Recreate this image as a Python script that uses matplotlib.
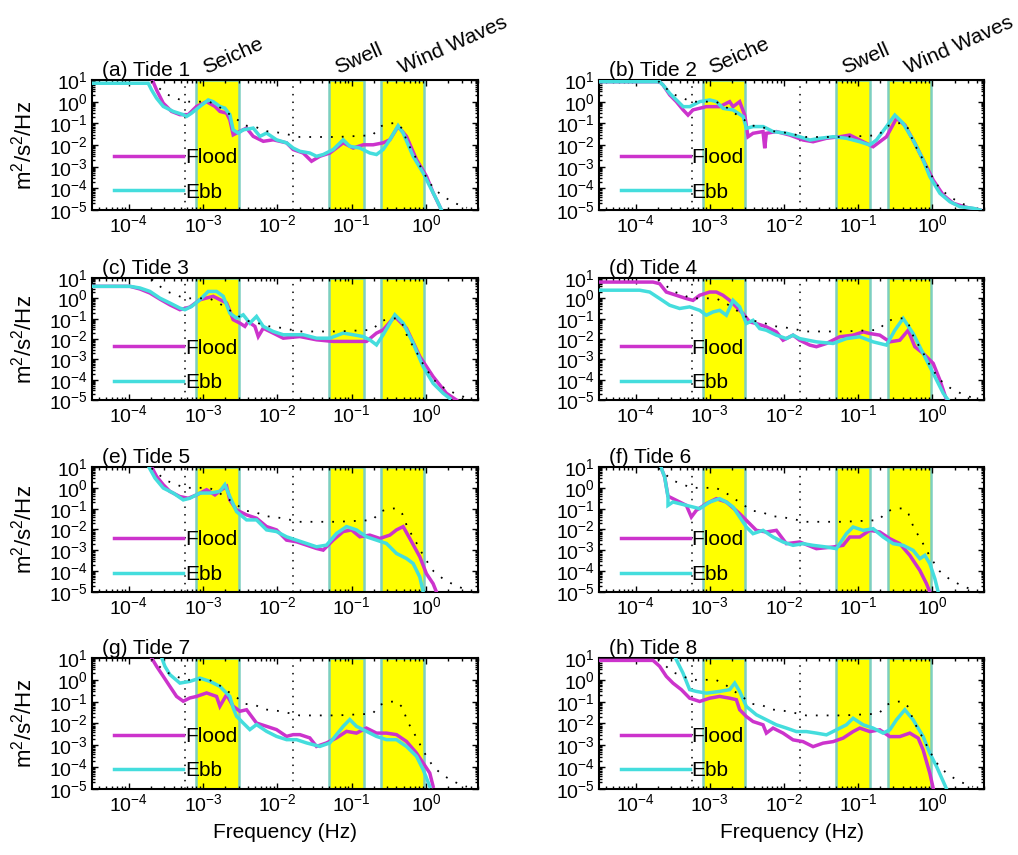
import numpy as np
import matplotlib
matplotlib.use("Agg")
import matplotlib.pyplot as plt
from matplotlib.ticker import LogLocator, NullFormatter, LogFormatterSciNotation

plt.rcParams['font.family'] = ['Liberation Sans', 'DejaVu Sans']
plt.rcParams['mathtext.fontset'] = 'custom'
plt.rcParams['mathtext.rm'] = 'Liberation Sans'
plt.rcParams['mathtext.it'] = 'Liberation Sans:italic'
plt.rcParams['mathtext.bf'] = 'Liberation Sans:bold'

# ---------------- data (log10 frequency [Hz], log10 PSD [m^2/s^2/Hz]) ----------------
panel_titles = ['(a) Tide 1', '(b) Tide 2', '(c) Tide 3', '(d) Tide 4',
                '(e) Tide 5', '(f) Tide 6', '(g) Tide 7', '(h) Tide 8']
series_names = ['Flood', 'Ebb']
band_names = ['Seiche', 'Swell', 'Wind Waves']
band_lo = [8.1e-4, 0.05, 0.25]
band_hi = [3.0e-3, 0.145, 0.95]
vline_freqs = [5.75e-4, 0.0163]

ref_f = [-3.80, -3.65, -3.50, -3.40, -3.25, -3.05, -2.92, -2.80, -2.68, -2.55, -2.44, -2.30,
         -2.18, -2.00, -1.85, -1.70, -1.20, -0.72, -0.62, -0.52, -0.40, -0.32, -0.25, -0.12,
         -0.03, 0.10, 0.24, 0.40, 0.55]
ref_p = [1.3, 0.80, 0.35, 0.22, 0.0, 0.0, 0.0, -0.2, -0.5, -0.8, -1.1, -1.15,
         -1.35, -1.42, -1.52, -1.63, -1.63, -1.55, -1.15, -1.02, -0.98, -1.25, -1.9, -2.7,
         -3.3, -4.0, -4.4, -4.7, -4.9]

a_flood_f = [-4.5, -3.74, -3.693, -3.626, -3.536, -3.424, -3.312, -3.2, -3.088, -2.953, -2.841, -2.774,
             -2.684, -2.64, -2.595, -2.505, -2.415, -2.326, -2.19, -2.057, -1.877, -1.788, -1.653,
             -1.541, -1.429, -1.295, -1.115, -0.98, -0.846, -0.712, -0.577, -0.488, -0.376, -0.264,
             -0.129, 0.005, 0.095, 0.207]
a_flood_p = [1.5, 1.4, 1.08, 0.54, -0.07, -0.45, -0.6, -0.6, -0.22, 0.0, -0.22, -0.45,
             -0.53, -0.84, -1.53, -1.37, -1.22, -1.6, -1.83, -1.76, -1.9, -2.21, -2.37,
             -2.75, -2.52, -2.37, -1.9, -2.14, -1.99, -1.99, -1.9, -1.76, -1.14, -1.6,
             -2.67, -3.44, -4.2, -5.0]
a_ebb_f = [-4.5, -3.738, -3.693, -3.626, -3.536, -3.402, -3.267, -3.222, -3.155, -3.043, -2.931,
           -2.864, -2.774, -2.707, -2.64, -2.595, -2.527, -2.46, -2.326, -2.236, -2.146, -2.012,
           -1.877, -1.788, -1.698, -1.564, -1.474, -1.384, -1.25, -1.115, -1.026, -0.891, -0.757,
           -0.667, -0.577, -0.488, -0.376, -0.308, -0.174, -0.039, 0.05, 0.14, 0.207]
a_ebb_p = [0.85, 0.85, 0.54, 0.16, -0.22, -0.45, -0.6, -0.68, -0.53, -0.22, 0.08,
           0.0, -0.22, -0.3, -0.6, -1.3, -1.45, -1.3, -1.22, -1.6, -1.45, -1.76,
           -1.9, -2.14, -2.29, -2.37, -2.52, -2.44, -2.21, -1.76, -2.06, -2.14, -2.37,
           -2.44, -2.21, -1.76, -1.11, -1.45, -2.52, -3.29, -3.9, -4.51, -5.0]

b_flood_f = [-4.5, -3.677, -3.631, -3.54, -3.451, -3.36, -3.294, -3.227, -3.047, -2.867, -2.732,
             -2.687, -2.597, -2.529, -2.484, -2.417, -2.282, -2.259, -2.237, -2.102, -1.922,
             -1.742, -1.607, -1.427, -1.247, -1.112, -0.977, -0.797, -0.617, -0.482, -0.369,
             -0.234, -0.099, 0.014, 0.149, 0.284, 0.464, 0.644]
b_flood_p = [0.92, 0.92, 0.77, 0.31, 0.0, -0.38, -0.62, -0.38, -0.23, -0.23, 0.0,
             -0.23, 0.0, -0.62, -1.62, -1.46, -1.38, -2.15, -1.46, -1.38, -1.54,
             -1.77, -1.85, -1.69, -1.62, -1.54, -1.77, -2.08, -1.62, -0.77, -1.08,
             -1.92, -2.85, -3.62, -4.31, -4.69, -4.88, -5.0]
b_ebb_f = [-4.5, -3.677, -3.631, -3.54, -3.451, -3.36, -3.27, -3.136, -3.0, -2.911, -2.82,
           -2.687, -2.55, -2.506, -2.416, -2.28, -2.146, -1.966, -1.787, -1.65, -1.517, -1.337,
           -1.157, -0.977, -0.842, -0.752, -0.617, -0.504, -0.392, -0.257, -0.122, -0.032,
           0.104, 0.239, 0.374, 0.553, 0.644]
b_ebb_p = [0.92, 0.92, 0.77, 0.38, 0.08, -0.23, -0.23, 0.0, 0.08, 0.0, -0.31,
           -0.38, -0.69, -1.23, -1.15, -1.15, -1.38, -1.46, -1.62, -1.77, -1.69, -1.62,
           -1.69, -1.85, -2.0, -1.77, -1.15, -0.62, -1.0, -1.77, -2.69, -3.46,
           -4.23, -4.62, -4.85, -4.92, -5.0]

c_flood_f = [-4.5, -3.984, -3.85, -3.715, -3.581, -3.447, -3.312, -3.178, -3.043, -2.864, -2.684,
             -2.595, -2.505, -2.438, -2.393, -2.303, -2.258, -2.191, -2.057, -1.922, -1.698,
             -1.474, -1.25, -1.026, -0.802, -0.667, -0.577, -0.42, -0.264, -0.084, 0.095, 0.274, 0.409]
c_flood_p = [0.59, 0.59, 0.46, 0.26, -0.04, -0.32, -0.56, -0.43, -0.07, 0.1, -0.23,
             -1.05, -1.22, -1.38, -1.14, -1.38, -1.88, -1.47, -1.71, -1.96, -1.88,
             -2.04, -2.12, -2.12, -2.12, -1.71, -1.55, -0.89, -1.47, -2.86, -3.85, -4.67, -5.0]
c_ebb_f = [-4.5, -3.984, -3.85, -3.715, -3.581, -3.447, -3.312, -3.245, -3.155, -3.043, -2.931,
           -2.819, -2.729, -2.64, -2.55, -2.46, -2.371, -2.281, -2.191, -2.057, -1.922, -1.788,
           -1.653, -1.474, -1.295, -1.115, -0.981, -0.846, -0.757, -0.667, -0.577, -0.42, -0.308,
           -0.174, -0.039, 0.095, 0.23, 0.319]
c_ebb_p = [0.59, 0.59, 0.51, 0.34, 0.01, -0.23, -0.48, -0.56, -0.4, -0.07, 0.34,
           0.34, 0.1, -0.73, -0.97, -0.81, -1.22, -0.89, -1.38, -1.63, -1.79, -1.79,
           -1.79, -1.96, -1.96, -1.71, -1.79, -1.88, -2.04, -2.29, -1.79, -0.81, -1.22,
           -2.2, -3.36, -4.18, -4.67, -4.92]

d_flood_f = [-4.5, -3.766, -3.677, -3.587, -3.452, -3.317, -3.227, -3.137, -3.002, -2.912, -2.822,
             -2.732, -2.642, -2.552, -2.462, -2.372, -2.237, -2.102, -2.012, -1.877, -1.787,
             -1.652, -1.562, -1.427, -1.247, -1.067, -0.932, -0.842, -0.707, -0.572, -0.437,
             -0.324, -0.234, -0.122, 0.014, 0.104, 0.194]
d_flood_p = [0.80, 0.80, 0.72, 0.31, 0.15, -0.01, -0.1, 0.15, 0.31, 0.31, 0.15,
             -0.1, -0.42, -0.75, -1.16, -1.24, -1.4, -1.65, -2.06, -1.81, -2.06,
             -2.3, -2.38, -2.22, -1.89, -1.81, -1.65, -1.73, -1.81, -2.14, -2.06,
             -1.57, -2.38, -2.71, -3.2, -4.02, -5.0]
d_ebb_f = [-4.5, -3.946, -3.811, -3.677, -3.542, -3.407, -3.272, -3.137, -3.047, -2.957, -2.867,
           -2.777, -2.687, -2.597, -2.507, -2.417, -2.327, -2.237, -2.102, -1.967, -1.877,
           -1.787, -1.562, -1.337, -1.157, -0.977, -0.797, -0.617, -0.504, -0.392, -0.257,
           -0.122, 0.014, 0.149, 0.216]
d_ebb_p = [0.40, 0.40, 0.31, -0.01, -0.34, -0.5, -0.42, -0.59, -0.83, -0.67, -0.59,
           -0.83, -0.1, -0.42, -1.24, -1.08, -1.49, -1.57, -1.81, -1.98, -1.81,
           -1.98, -2.14, -2.22, -1.98, -1.89, -2.14, -2.3, -1.57, -0.99, -1.73,
           -2.71, -3.69, -4.67, -5.0]

e_flood_f = [-3.76, -3.693, -3.626, -3.536, -3.447, -3.312, -3.2, -3.088, -2.953, -2.841, -2.752,
             -2.684, -2.64, -2.55, -2.415, -2.281, -2.146, -2.012, -1.877, -1.743, -1.608,
             -1.474, -1.384, -1.25, -1.115, -1.003, -0.891, -0.757, -0.622, -0.488, -0.398,
             -0.308, -0.219, -0.084, 0.005, 0.095, 0.14]
e_flood_p = [1.2, 1.0, 0.55, 0.15, -0.17, -0.42, -0.5, -0.34, -0.09, -0.34, -0.09,
             0.07, -0.58, -1.06, -1.3, -1.46, -1.86, -2.02, -2.51, -2.59, -2.75,
             -2.91, -2.99, -2.51, -2.1, -2.02, -2.35, -2.27, -2.43, -2.27, -2.02,
             -1.86, -2.43, -3.31, -4.12, -4.6, -5.0]
e_ebb_f = [-3.76, -3.648, -3.536, -3.402, -3.267, -3.178, -3.043, -2.909, -2.774, -2.707, -2.64,
           -2.55, -2.415, -2.281, -2.146, -2.012, -1.877, -1.743, -1.608, -1.474, -1.339,
           -1.205, -1.07, -0.936, -0.802, -0.667, -0.533, -0.398, -0.264, -0.174, -0.084, -0.039]
e_ebb_p = [1.2, 0.47, -0.01, -0.25, -0.58, -0.5, -0.25, -0.25, -0.17, 0.15, -0.42,
           -1.14, -1.54, -1.54, -2.02, -2.1, -2.35, -2.51, -2.67, -2.83, -2.75,
           -2.19, -1.86, -2.02, -2.35, -2.51, -2.67, -3.15, -3.39, -3.63, -4.28, -5.0]

f_flood_f = [-3.677, -3.609, -3.564, -3.497, -3.317, -3.249, -3.182, -3.047, -2.912, -2.777,
             -2.597, -2.507, -2.372, -2.237, -2.102, -1.967, -1.787, -1.562, -1.337, -1.202,
             -1.112, -0.977, -0.842, -0.707, -0.572, -0.437, -0.302, -0.167, -0.077, -0.032]
f_flood_p = [1.16, 0.52, -0.4, -0.52, -0.84, -1.4, -1.08, -0.76, -0.52, -0.68,
             -1.24, -1.56, -2.04, -2.12, -2.04, -2.68, -2.6, -2.92, -2.84, -2.76,
             -2.36, -2.36, -2.04, -2.12, -2.44, -2.68, -3.24, -3.96, -4.6, -5.0]
f_ebb_f = [-3.677, -3.609, -3.564, -3.564, -3.497, -3.317, -3.137, -3.002, -2.867, -2.777, -2.687,
           -2.597, -2.507, -2.417, -2.282, -2.147, -2.012, -1.877, -1.742, -1.607, -1.427,
           -1.292, -1.157, -1.067, -0.932, -0.797, -0.662, -0.527, -0.392, -0.257, -0.167,
           -0.099, -0.032, 0.036, 0.081]
f_ebb_p = [1.16, 0.52, -0.44, -0.84, -0.68, -0.84, -1.0, -0.68, -0.52, -0.68, -0.92,
           -1.4, -1.88, -2.2, -2.04, -2.36, -2.6, -2.76, -2.68, -2.76, -2.84,
           -2.92, -2.2, -1.88, -2.04, -1.96, -2.36, -2.68, -2.76, -3.0, -3.4,
           -3.24, -3.64, -4.36, -5.0]

g_flood_f = [-3.738, -3.693, -3.626, -3.536, -3.447, -3.357, -3.267, -3.178, -3.088, -2.953,
             -2.819, -2.774, -2.684, -2.595, -2.505, -2.415, -2.281, -2.146, -2.012, -1.877,
             -1.788, -1.698, -1.564, -1.474, -1.339, -1.205, -1.07, -0.936, -0.802, -0.667,
             -0.533, -0.398, -0.264, -0.129, -0.039, 0.05, 0.095]
g_flood_p = [1.23, 1.0, 0.62, 0.16, -0.3, -0.76, -0.98, -0.83, -0.76, -0.6,
             -0.76, -1.21, -0.68, -1.21, -1.44, -1.37, -1.98, -2.13, -2.28, -2.59,
             -2.51, -2.51, -2.66, -3.05, -2.89, -2.66, -2.36, -2.44, -2.21, -2.44,
             -2.44, -2.51, -2.82, -3.35, -3.81, -4.27, -4.88]
g_ebb_f = [-3.581, -3.514, -3.447, -3.312, -3.178, -3.043, -2.909, -2.774, -2.64, -2.595, -2.55,
           -2.46, -2.371, -2.281, -2.146, -2.012, -1.877, -1.743, -1.608, -1.429, -1.295,
           -1.115, -1.026, -0.936, -0.802, -0.667, -0.533, -0.398, -0.264, -0.129, -0.039, 0.05]
g_ebb_p = [1.23, 0.62, 0.24, -0.15, -0.07, 0.08, -0.07, -0.3, -0.76, -1.29, -1.67,
           -1.98, -2.28, -2.05, -2.36, -2.59, -2.74, -2.74, -2.89, -3.05, -2.89,
           -2.13, -1.82, -2.13, -2.36, -2.59, -2.74, -2.74, -3.05, -3.5, -4.11, -4.88]

h_flood_f = [-4.5, -3.766, -3.677, -3.587, -3.497, -3.384, -3.272, -3.137, -3.002, -2.867, -2.732,
             -2.642, -2.597, -2.507, -2.417, -2.282, -2.237, -2.147, -2.012, -1.877, -1.742,
             -1.607, -1.472, -1.337, -1.202, -1.067, -0.977, -0.842, -0.707, -0.572, -0.437,
             -0.302, -0.189, -0.122, -0.032, 0.014]
h_flood_p = [0.89, 0.89, 0.62, 0.16, -0.15, -0.45, -0.84, -0.99, -0.84, -0.76, -0.84,
             -0.91, -1.37, -1.68, -1.91, -2.06, -2.44, -2.21, -2.44, -2.75, -2.83,
             -3.06, -2.9, -2.83, -2.67, -2.37, -2.21, -2.37, -2.29, -2.6, -2.6,
             -2.44, -2.67, -3.21, -4.28, -4.97]
h_ebb_f = [-3.497, -3.362, -3.272, -3.182, -3.047, -2.867, -2.732, -2.664, -2.597, -2.507, -2.372,
           -2.237, -2.102, -1.967, -1.832, -1.697, -1.562, -1.427, -1.292, -1.157, -1.067,
           -0.932, -0.797, -0.662, -0.572, -0.482, -0.369, -0.257, -0.122, -0.032, 0.059, 0.194]
h_ebb_p = [1.23, 0.31, -0.45, -0.53, -0.61, -0.53, -0.45, -0.15, -0.53, -1.22, -1.6,
           -1.83, -2.06, -2.21, -2.37, -2.37, -2.44, -2.52, -2.29, -2.06, -1.76,
           -2.06, -2.21, -2.44, -2.29, -1.83, -1.37, -1.83, -2.6, -3.36, -3.97, -5.0]

flood_f = [a_flood_f, b_flood_f, c_flood_f, d_flood_f, e_flood_f, f_flood_f, g_flood_f, h_flood_f]
flood_p = [a_flood_p, b_flood_p, c_flood_p, d_flood_p, e_flood_p, f_flood_p, g_flood_p, h_flood_p]
ebb_f = [a_ebb_f, b_ebb_f, c_ebb_f, d_ebb_f, e_ebb_f, f_ebb_f, g_ebb_f, h_ebb_f]
ebb_p = [a_ebb_p, b_ebb_p, c_ebb_p, d_ebb_p, e_ebb_p, f_ebb_p, g_ebb_p, h_ebb_p]

for i in range(8):
    if len(flood_f[i]) != len(flood_p[i]) or len(ebb_f[i]) != len(ebb_p[i]):
        raise ValueError(f"length mismatch panel {i}")

# ---------------- styling ----------------
FLOOD_C = '#CC33CC'
EBB_C = '#44DDDD'
BAND_C = '#FFFF00'
BAND_EDGE = '#7CCFC0'
XLIM = (3.2e-5, 5.0)
YLIM = (1e-5, 1e1)

fig = plt.figure(figsize=(10.18, 8.55), dpi=100)
W, H = 1018.0, 855.0
col_x = [(92, 478), (599, 984)]
row_y = [(80, 210), (278, 400), (467, 592), (658, 789)]

axes = []
for i in range(8):
    r, c = divmod(i, 2)
    x0, x1 = col_x[c]
    y0, y1 = row_y[r]
    ax = fig.add_axes([x0 / W, 1 - y1 / H, (x1 - x0) / W, (y1 - y0) / H])
    axes.append(ax)

for i, ax in enumerate(axes):
    r, c = divmod(i, 2)
    ax.set_xscale('log')
    ax.set_yscale('log')
    for lo, hi in zip(band_lo, band_hi):
        ax.axvspan(lo, hi, facecolor=BAND_C, edgecolor=BAND_EDGE, linewidth=1.8, zorder=0)
    for vf in vline_freqs:
        ax.axvline(vf, color='black', linestyle=(0, (1, 4)), linewidth=1.1, zorder=1)
    lf, = ax.plot(10 ** np.array(flood_f[i]), 10 ** np.array(flood_p[i]), color=FLOOD_C,
                  linewidth=2.5, zorder=3, solid_joinstyle='miter')
    le, = ax.plot(10 ** np.array(ebb_f[i]), 10 ** np.array(ebb_p[i]), color=EBB_C,
                  linewidth=2.5, zorder=4, solid_joinstyle='miter')
    ax.plot(10 ** np.array(ref_f), 10 ** np.array(ref_p), color='black',
            linestyle=(0, (1, 5)), linewidth=1.3, zorder=5)
    ax.set_xlim(*XLIM)
    ax.set_ylim(*YLIM)
    ax.set_yticks([1e-5, 1e-4, 1e-3, 1e-2, 1e-1, 1e0, 1e1])
    ax.yaxis.set_major_formatter(LogFormatterSciNotation())
    ax.yaxis.set_minor_locator(LogLocator(base=10, subs=np.arange(2, 10), numticks=20))
    ax.yaxis.set_minor_formatter(NullFormatter())
    ax.xaxis.set_major_locator(LogLocator(base=10, numticks=20))
    ax.xaxis.set_minor_locator(LogLocator(base=10, subs=np.arange(2, 10), numticks=20))
    ax.xaxis.set_minor_formatter(NullFormatter())
    ax.tick_params(which='both', direction='in', top=True, right=True, width=1.0)
    ax.tick_params(which='major', length=4, labelsize=14, pad=3)
    ax.tick_params(which='minor', length=2)
    for sp in ax.spines.values():
        sp.set_linewidth(1.5)
    ax.text(0.026, 1.0, panel_titles[i], transform=ax.transAxes, ha='left', va='bottom',
            fontsize=15)
    ax.legend([lf, le], series_names, loc='lower left', bbox_to_anchor=(0.058, 0.065),
              frameon=False, borderpad=0, borderaxespad=0, handlelength=3.3,
              handletextpad=0.08, labelspacing=0.74, fontsize=15)
    if c == 0:
        ax.set_ylabel('m$^2$/s$^2$/Hz', fontsize=16)
        ax.yaxis.set_label_coords(-0.145, 0.5)
    if r == 3:
        ax.set_xlabel('Frequency (Hz)', fontsize=15, labelpad=6)
    if r == 0:
        band_text_x = [1.08e-3, 0.066, 0.47]
        for name, bx in zip(band_names, band_text_x):
            ax.annotate(name, xy=(bx, 1.0), xycoords=('data', 'axes fraction'),
                        xytext=(0, 4), textcoords='offset points',
                        rotation=24, rotation_mode='anchor', ha='left', va='baseline',
                        fontsize=15, annotation_clip=False)

fig.savefig('out.png', dpi=100)
